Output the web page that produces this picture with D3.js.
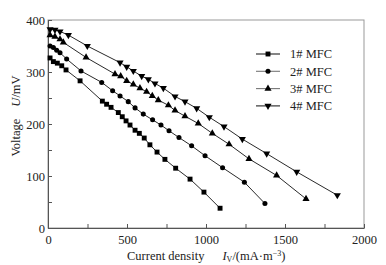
<!DOCTYPE html>
<html>
<head>
<meta charset="utf-8">
<script src="https://cdn.jsdelivr.net/npm/d3@7"></script>
<style>
  body { margin: 0; background: #fff; }
  text { font-family: "Liberation Serif", "DejaVu Serif", serif; }
</style>
</head>
<body>
<div id="chart"></div>
<script>
// series: [current density, voltage]
const mfc1 = [[13,327],[34,320],[59,317],[87,312],[114,304],[203,283],[344,244],[371,238],[399,232],[445,222],[470,214],[494,206],[519,198],[551,188],[578,182],[609,173],[645,160],[690,146],[740,132],[808,115],[899,94],[987,69],[1089,38]];
const mfc2 = [[13,350],[34,347],[55,342],[76,337],[118,325],[209,302],[340,280],[409,264],[456,254],[508,243],[551,231],[603,219],[662,208],[715,198],[766,187],[829,174],[909,158],[994,139],[1105,116],[1243,88],[1373,47]];
const mfc3 = [[13,371],[44,368],[76,363],[97,357],[241,328],[424,296],[460,292],[498,283],[540,276],[582,269],[624,262],[660,254],[698,246],[762,236],[804,226],[867,215],[951,201],[1040,182],[1146,161],[1272,133],[1447,101],[1633,56]];
const mfc4 = [[13,382],[44,381],[76,378],[129,371],[249,350],[456,318],[498,310],[540,302],[593,292],[635,286],[677,278],[730,269],[804,253],[867,243],[941,230],[1021,213],[1114,195],[1230,171],[1384,143],[1574,108],[1831,63]];

const seriesNames = ["1# MFC", "2# MFC", "3# MFC", "4# MFC"];
const seriesData = [mfc1, mfc2, mfc3, mfc4];
const xTicks = [0, 500, 1000, 1500, 2000];
const yTicks = [0, 100, 200, 300, 400];

const margin = {top: 20, right: 22, bottom: 37, left: 48},
    width = 386 - margin.left - margin.right,
    height = 265 - margin.top - margin.bottom;

const svg = d3.select("#chart")
    .append("svg")
    .attr("width", 386)
    .attr("height", 265)
    .append("g")
    .attr("transform", `translate(${margin.left},${margin.top})`);

const x = d3.scaleLinear().domain([0, 2000]).range([0, width]);
const y = d3.scaleLinear().domain([0, 400]).range([height, 0]);

// frame
svg.append("rect")
    .attr("width", width)
    .attr("height", height)
    .attr("fill", "none")
    .attr("stroke", "#999")
    .attr("stroke-width", 1);

// x axis, ticks inward
const xAxis = svg.append("g")
    .attr("transform", `translate(0,${height})`)
    .call(d3.axisBottom(x).tickValues(d3.range(0, 2001, 250)).tickSize(-4).tickSizeOuter(0)
        .tickFormat(d => xTicks.includes(d) ? d : ""));
xAxis.select(".domain").attr("stroke", "#555");
xAxis.selectAll(".tick line").attr("stroke", "#555");
xAxis.selectAll(".tick text")
    .attr("y", 7)
    .style("font-size", "12.5px")
    .style("fill", "#222");

// y axis, ticks inward
const yAxis = svg.append("g")
    .call(d3.axisLeft(y).tickValues(d3.range(0, 401, 50)).tickSize(-4).tickSizeOuter(0)
        .tickFormat(d => yTicks.includes(d) ? d : ""));
yAxis.select(".domain").attr("stroke", "#555");
yAxis.selectAll(".tick line").attr("stroke", "#555");
yAxis.selectAll(".tick text")
    .attr("x", -3)
    .style("font-size", "12.5px")
    .style("fill", "#222");

// markers
const shapes = [
    {type: d3.symbolSquare, size: 24, rot: 0},
    {type: d3.symbolCircle, size: 20, rot: 0},
    {type: d3.symbolTriangle, size: 22, rot: 0},
    {type: d3.symbolTriangle, size: 22, rot: 180}
];

const line = d3.line().x(d => x(d[0])).y(d => y(d[1]));

seriesData.forEach(function (data, i) {
    svg.append("path")
        .datum(data)
        .attr("d", line)
        .attr("fill", "none")
        .attr("stroke", "#111")
        .attr("stroke-width", 0.9);

    svg.append("g")
        .selectAll("path")
        .data(data)
        .join("path")
        .attr("d", d3.symbol().type(shapes[i].type).size(shapes[i].size))
        .attr("transform", d => `translate(${x(d[0])},${y(d[1])}) rotate(${shapes[i].rot})`)
        .attr("fill", "#000");
});

// legend
const legend = svg.selectAll(".legend")
    .data(seriesNames)
    .enter().append("g")
    .attr("class", "legend")
    .attr("transform", (d, i) => `translate(208,${34 + i * 17.3})`);

legend.append("line")
    .attr("x1", 0)
    .attr("x2", 24)
    .attr("stroke", (d, i) => (i === 1 || i === 2) ? "#777" : "#222")
    .attr("stroke-width", 1.1);

legend.append("path")
    .attr("d", (d, i) => d3.symbol().type(shapes[i].type).size(shapes[i].size)())
    .attr("transform", (d, i) => `translate(12,0) rotate(${shapes[i].rot})`)
    .attr("fill", "#000");

legend.append("text")
    .attr("x", 34)
    .attr("dy", "0.35em")
    .style("font-size", "12.5px")
    .style("fill", "#222")
    .text(d => d);

// y axis label
const yl = svg.append("text")
    .attr("transform", "rotate(-90)")
    .attr("x", -96)
    .attr("y", -margin.left + 20)
    .attr("text-anchor", "middle")
    .style("font-size", "12.5px")
    .style("fill", "#222");
yl.append("tspan").text("Voltage");
yl.append("tspan").attr("dx", 12).style("font-style", "italic").text("U");
yl.append("tspan").text("/mV");

// x axis label
const xl = svg.append("text")
    .attr("x", 79)
    .attr("y", height + 32)
    .style("font-size", "12.5px")
    .style("fill", "#222");
xl.append("tspan").text("Current density");
xl.append("tspan").attr("dx", 18).style("font-style", "italic").text("I");
xl.append("tspan").attr("dy", 2).style("font-size", "8px").text("V");
xl.append("tspan").attr("dy", -2).text("/(mA\u00b7m");
xl.append("tspan").attr("dy", -4).style("font-size", "8px").text("\u22123");
xl.append("tspan").attr("dy", 4).text(")");
</script>
</body>
</html>
